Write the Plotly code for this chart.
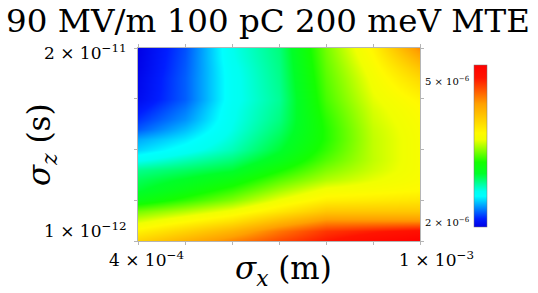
import numpy as np
import plotly.graph_objects as go

# sigma_x (m) grid columns
SIGMA_X = [4e-4, 5e-4, 6e-4, 7e-4, 8e-4, 9e-4, 1e-3]
# sigma_z (s) grid rows (uniform steps)
SIGMA_Z = [1e-12, 2e-12, 3e-12, 4e-12, 5e-12, 6e-12, 7e-12, 8e-12, 9e-12, 1e-11,
           1.1e-11, 1.2e-11, 1.3e-11, 1.4e-11, 1.5e-11, 1.6e-11, 1.7e-11, 1.8e-11,
           1.9e-11, 2e-11]
# emittance values, in units of 1e-6
EMIT_E6 = [
    [4.19, 4.42, 4.65, 4.88, 5.08, 5.24, 5.36],
    [3.97, 4.18, 4.40, 4.70, 4.95, 5.05, 5.15],
    [3.72, 3.90, 4.08, 4.36, 4.60, 4.60, 4.60],
    [3.50, 3.64, 3.80, 4.03, 4.26, 4.26, 4.26],
    [3.17, 3.35, 3.53, 3.78, 3.98, 4.01, 4.05],
    [3.03, 3.18, 3.36, 3.60, 3.81, 3.86, 3.91],
    [2.96, 3.07, 3.20, 3.44, 3.64, 3.76, 3.86],
    [2.86, 2.94, 3.03, 3.28, 3.53, 3.70, 3.84],
    [2.65, 2.78, 2.90, 3.13, 3.43, 3.67, 3.84],
    [2.48, 2.62, 2.78, 3.03, 3.36, 3.67, 3.84],
    [2.38, 2.52, 2.72, 2.97, 3.32, 3.67, 3.84],
    [2.21, 2.42, 2.68, 2.92, 3.32, 3.68, 3.85],
    [2.12, 2.33, 2.66, 2.88, 3.34, 3.70, 3.87],
    [2.05, 2.28, 2.65, 2.86, 3.37, 3.72, 3.90],
    [1.98, 2.22, 2.63, 2.84, 3.40, 3.75, 3.95],
    [1.96, 2.22, 2.63, 2.85, 3.42, 3.78, 4.04],
    [1.95, 2.22, 2.63, 2.86, 3.44, 3.81, 4.15],
    [1.93, 2.21, 2.64, 2.87, 3.46, 3.85, 4.28],
    [1.92, 2.20, 2.66, 2.88, 3.48, 3.90, 4.44],
    [1.91, 2.19, 2.67, 2.89, 3.50, 3.95, 4.62],
]
Z_MIN, Z_MAX = 1.91e-6, 5.36e-6
X_TICKS = [4e-4, 5e-4, 6e-4, 7e-4, 8e-4, 9e-4, 1e-3]
Y_TICKS = [1e-12, 5e-12, 1e-11, 1.5e-11, 2e-11]

W, H = 538, 293
L, R, T, B = 138, 420, 48, 241

def px(xp, yp):
    return (xp - L) / (R - L), (B - yp) / (B - T)

z = np.array(EMIT_E6) * 1e-6

colorscale = [
    [0.0, "rgb(0,0,230)"],
    [0.05, "rgb(0,30,255)"],
    [0.19, "rgb(0,255,255)"],
    [0.22, "rgb(0,255,240)"],
    [0.33, "rgb(0,255,40)"],
    [0.40, "rgb(20,255,0)"],
    [0.54, "rgb(240,255,0)"],
    [0.58, "rgb(255,250,0)"],
    [0.76, "rgb(255,160,0)"],
    [0.92, "rgb(255,20,0)"],
    [1.0, "rgb(255,0,0)"],
]

cbx, cby = px(474, 146)
fig = go.Figure(go.Heatmap(
    x=SIGMA_X, y=SIGMA_Z, z=z, zsmooth="best",
    colorscale=colorscale, zmin=Z_MIN, zmax=Z_MAX,
    colorbar=dict(
        x=cbx, xanchor="left", xpad=0, ypad=0,
        y=cby, yanchor="middle",
        thickness=13, thicknessmode="pixels",
        len=162, lenmode="pixels",
        showticklabels=False, ticks="",
        outlinewidth=0.5, outlinecolor="#777",
    ),
))

serif = "DejaVu Serif"
axis_common = dict(showline=True, linecolor="#b5b5b5", linewidth=1, mirror="ticks",
                   ticks="outside", ticklen=3, tickcolor="#b5b5b5",
                   showgrid=False, zeroline=False, showticklabels=False)

fig.update_xaxes(range=[4e-4, 1e-3], tickvals=X_TICKS, **axis_common)
fig.update_yaxes(range=[1e-12, 2e-11], tickvals=Y_TICKS, **axis_common)

ann = []
def add(text, xp, yp, size, xanchor="center", yanchor="middle", angle=0):
    ax, ay = px(xp, yp)
    ann.append(dict(text=text, x=ax, y=ay, xref="paper", yref="paper",
                    xanchor=xanchor, yanchor=yanchor, showarrow=False,
                    textangle=angle, font=dict(family=serif, size=size, color="black")))

add("2 × 10<sup>−11</sup>", 129, 52, 17, xanchor="right")
add("1 × 10<sup>−12</sup>", 129, 230, 17, xanchor="right")
add("4 × 10<sup>−4</sup>", 146, 259, 17)
add("1 × 10<sup>−3</sup>", 436, 259, 17)
add("<i>σ</i><sub><i>x</i></sub> (m)", 283, 270, 31)
add("<i>σ</i><sub><i>z</i></sub> (s)", 41, 145, 31, angle=-90)
add("5 × 10<sup>−6</sup>", 472, 81, 10, xanchor="right")
add("2 × 10<sup>−6</sup>", 472, 222, 10, xanchor="right")

fig.update_layout(
    width=W, height=H,
    margin=dict(l=L, r=W - R, t=T, b=H - B, autoexpand=False),
    paper_bgcolor="white", plot_bgcolor="white",
    title=dict(text="90 MV/m 100 pC 200 meV MTE", x=268 / W, y=1 - 21 / H,
               xanchor="center", yanchor="middle",
               font=dict(family=serif, size=32.5, color="black")),
    annotations=ann,
    showlegend=False,
)

fig.write_html("out.html", config={"displayModeBar": False},
               post_script="document.body.style.margin='0';document.body.style.overflow='hidden';")
